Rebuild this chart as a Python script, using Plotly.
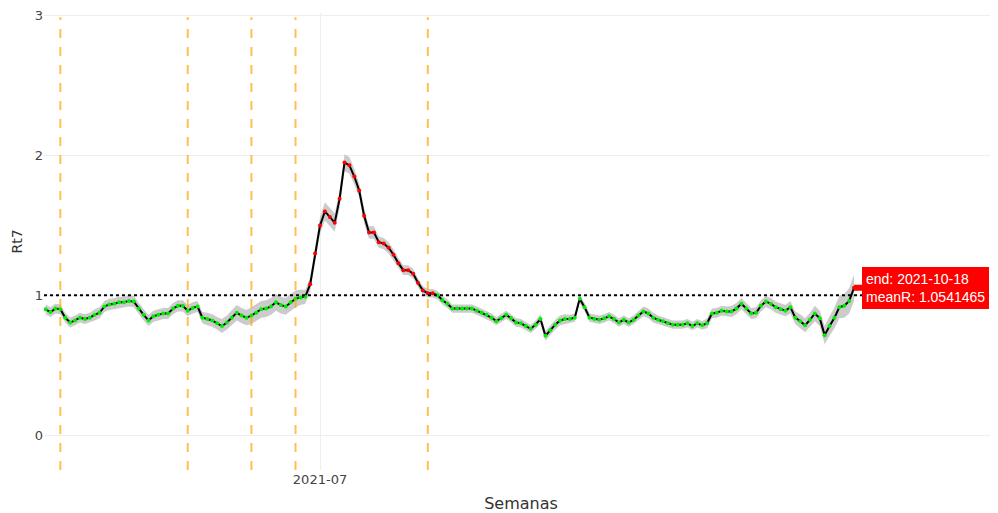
import pandas as pd
import plotly.graph_objects as go

start_date = "2021-05-06"
rt7 = [
    # May-June
    0.90, 0.88, 0.905, 0.90, 0.84, 0.805, 0.82, 0.84, 0.83, 0.84, 0.86, 0.875, 0.92, 0.935,
    0.94, 0.95, 0.95, 0.96, 0.955, 0.905, 0.86, 0.82, 0.85, 0.86, 0.87, 0.87, 0.905, 0.925,
    0.925, 0.89, 0.91, 0.92, 0.84, 0.83, 0.82, 0.80, 0.78, 0.805, 0.84, 0.875, 0.855,
    0.84, 0.855, 0.875, 0.90, 0.905, 0.92, 0.95, 0.93, 0.92, 0.95, 0.975, 0.985, 0.99,
    # peak
    1.08, 1.30, 1.50, 1.60, 1.56, 1.52, 1.69, 1.95, 1.93, 1.85, 1.75, 1.57, 1.45, 1.45,
    1.38, 1.37, 1.34, 1.29, 1.23, 1.18, 1.18, 1.155, 1.09, 1.035, 1.015, 1.015, 1.0,
    # August
    0.965, 0.94, 0.905, 0.905, 0.905, 0.905, 0.905, 0.89, 0.875, 0.86, 0.84, 0.815, 0.835,
    0.86, 0.835, 0.805, 0.80, 0.78, 0.76, 0.79, 0.83, 0.71, 0.75, 0.79, 0.82, 0.83,
    # September
    0.83, 0.84, 0.975, 0.915, 0.84, 0.83, 0.825, 0.835, 0.85, 0.83, 0.805, 0.825, 0.805,
    0.825, 0.855, 0.885, 0.87, 0.84, 0.825, 0.815, 0.80, 0.79, 0.79, 0.79, 0.80, 0.78,
    0.80, 0.785,
    # October
    0.80, 0.87, 0.875, 0.89, 0.885, 0.885, 0.905, 0.94, 0.905, 0.87, 0.875, 0.925, 0.955,
    0.94, 0.915, 0.90, 0.89, 0.915, 0.84, 0.815, 0.785, 0.825, 0.87, 0.835, 0.715, 0.78,
    0.84, 0.915, 0.925, 0.96, 1.054,
]
ci_halfwidth = [
    0.035, 0.035, 0.035, 0.035, 0.035, 0.035, 0.035, 0.035, 0.035, 0.035, 0.04, 0.04, 0.04, 0.04,
    0.04, 0.04, 0.04, 0.04, 0.04, 0.04, 0.04, 0.04, 0.04, 0.04, 0.04, 0.04, 0.04, 0.04,
    0.04, 0.04, 0.04, 0.04, 0.04, 0.045, 0.045, 0.045, 0.05, 0.05, 0.055, 0.055, 0.055,
    0.055, 0.06, 0.06, 0.06, 0.06, 0.06, 0.06, 0.06, 0.06, 0.06, 0.06, 0.055, 0.05,
    0.05, 0.055, 0.06, 0.065, 0.065, 0.065, 0.06, 0.06, 0.06, 0.055, 0.05, 0.05, 0.045, 0.045,
    0.04, 0.04, 0.04, 0.04, 0.035, 0.035, 0.035, 0.035, 0.03, 0.03, 0.03, 0.03, 0.03,
    0.03, 0.03, 0.03, 0.03, 0.03, 0.03, 0.03, 0.03, 0.03, 0.03, 0.03, 0.03, 0.03,
    0.03, 0.03, 0.03, 0.03, 0.03, 0.03, 0.03, 0.035, 0.035, 0.035, 0.035, 0.035, 0.035,
    0.03, 0.03, 0.03, 0.03, 0.03, 0.03, 0.03, 0.03, 0.03, 0.03, 0.03, 0.03, 0.03,
    0.03, 0.035, 0.035, 0.035, 0.035, 0.03, 0.03, 0.03, 0.03, 0.03, 0.03, 0.03, 0.03,
    0.03, 0.03,
    0.035, 0.035, 0.035, 0.035, 0.035, 0.04, 0.04, 0.04, 0.04, 0.04, 0.04, 0.04, 0.04,
    0.04, 0.04, 0.04, 0.04, 0.045, 0.045, 0.05, 0.05, 0.05, 0.055, 0.055, 0.065, 0.07,
    0.075, 0.08, 0.085, 0.09, 0.095,
]
event_dates = ["2021-05-09", "2021-06-04", "2021-06-17", "2021-06-26", "2021-07-23"]
x_tick_vals = ["2021-07-01"]
x_tick_text = ["2021-07"]
y_tick_vals = [0, 1, 2, 3]
x_range = ["2021-05-05 16:00", "2021-11-16 09:00"]
y_range = [-0.25, 3.02]
end_label = "end: 2021-10-18<br>meanR: 1.0541465"

dates = pd.date_range(start_date, periods=len(rt7), freq="D")
upper = [v + h for v, h in zip(rt7, ci_halfwidth)]
lower = [v - h for v, h in zip(rt7, ci_halfwidth)]
marker_colors = ["#ff0000" if v > 1 else "#00ee00" for v in rt7]

fig = go.Figure()
fig.add_trace(go.Scatter(x=dates, y=upper, mode="lines", line=dict(width=0),
                         showlegend=False, hoverinfo="skip"))
fig.add_trace(go.Scatter(x=dates, y=lower, mode="lines", line=dict(width=0),
                         fill="tonexty", fillcolor="rgba(185,185,185,0.75)",
                         showlegend=False, hoverinfo="skip"))
fig.add_trace(go.Scatter(x=dates, y=rt7, mode="lines+markers",
                         line=dict(color="black", width=2),
                         marker=dict(color=marker_colors, size=4),
                         showlegend=False))

fig.add_hline(y=1, line=dict(color="black", width=2, dash="dot"))
for d in event_dates:
    fig.add_shape(type="line", xref="x", yref="y", x0=d, x1=d, y0=-0.25, y1=2.99,
                  line=dict(color="rgba(255,165,0,0.7)", width=2, dash="dash"))

fig.add_annotation(x=dates[-1], y=rt7[-1], text=end_label, showarrow=True,
                   ax=8, ay=0, xanchor="left", align="left",
                   arrowcolor="#ff0000", arrowwidth=6, arrowhead=0,
                   bgcolor="#ff0000", bordercolor="#ff0000", borderpad=3,
                   font=dict(family="Liberation Sans, Arial", size=14, color="white"))

fig.update_layout(
    width=990, height=505,
    margin=dict(l=36, r=0, t=3, b=43),
    plot_bgcolor="white", paper_bgcolor="white",
    font=dict(family="DejaVu Sans", color="#444"),
    showlegend=False,
    xaxis=dict(range=x_range, tickvals=x_tick_vals, ticktext=x_tick_text,
               showgrid=True, gridcolor="#eeeeee", zeroline=False, showline=False,
               ticks="", ticklen=0, tickfont=dict(size=13),
               title=dict(text="Semanas", font=dict(size=16, color="#333"), standoff=12)),
    yaxis=dict(range=y_range, tickvals=y_tick_vals, showgrid=True, gridcolor="#eeeeee",
               zeroline=False, showline=False, ticklabeloverflow="allow",
               tickfont=dict(size=13),
               title=dict(text="Rt7", font=dict(size=14, color="#333"), standoff=8)),
)
fig.write_html("out.html")
